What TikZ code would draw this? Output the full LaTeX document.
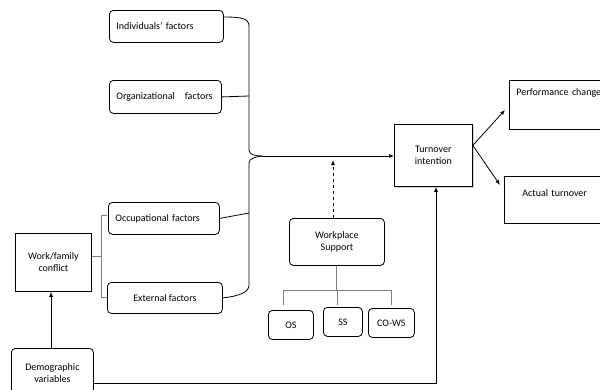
\documentclass[tikz,border=0pt]{standalone}
\usepackage{fontspec}
\setmainfont{Carlito}
\usetikzlibrary{arrows.meta,shadows}
\begin{document}
\begin{tikzpicture}[x=1pt,y=-1pt,
  rbox/.style={draw, thick, rounded corners=4pt, align=center, font=\fontsize{10}{12}\selectfont, inner sep=0pt},
  sbox/.style={draw, thick, align=center, font=\fontsize{10}{12}\selectfont, inner sep=0pt},
  lbox/.style={rbox, text width=#1, align=left},
  conn/.style={thick},
  arr/.style={thick, -{Latex[length=5pt,width=4pt]}},
  brk/.style={gray, thick}]
\useasboundingbox (0,0) rectangle (600,389);
\clip (0,0) rectangle (600,389);
% factor boxes
\node[lbox=100pt, minimum width=114pt, minimum height=32pt, anchor=north west] (ind) at (109,10) {Individuals' factors};
\node[lbox=98pt, minimum width=112pt, minimum height=33pt, anchor=north west] (org) at (109,80) {Organizational\ \ \ factors};
\node[lbox=97pt, minimum width=111pt, minimum height=32pt, anchor=north west] (occ) at (108,202) {Occupational factors};
\node[rbox, minimum width=115pt, minimum height=31pt, anchor=north west] (ext) at (107,282) {External factors};
% work/family
\node[sbox, minimum width=76pt, minimum height=58pt, anchor=north west, text width=76pt] (wf) at (15,233) {Work/family\\conflict};
% demographic
\node[rbox, minimum width=82pt, minimum height=50pt, anchor=north west, text width=82pt] (dem) at (11,348) {Demographic\\variables\\[10pt]};
% turnover
\node[sbox, minimum width=78pt, minimum height=62pt, anchor=north west, text width=78pt, fill=white, drop shadow={shadow xshift=2pt, shadow yshift=-2pt, opacity=0.35}] (ti) at (394,124) {Turnover\\intention};
% outcome boxes
\node[sbox, minimum width=100pt, minimum height=49pt, anchor=north west, text width=96pt, align=left, text depth=30pt, text height=11pt] (pc) at (509,80) {\hspace{5pt}Performance change};
\node[sbox, minimum width=100pt, minimum height=47pt, anchor=north west, text width=96pt, align=left, text depth=20pt, text height=13pt] (at) at (504,176) {\hspace{16pt}Actual turnover};
% workplace support
\node[rbox, minimum width=95pt, minimum height=47pt, anchor=north west, text width=95pt] (ws) at (289,218) {Workplace\\Support};
\node[rbox, minimum width=45pt, minimum height=29pt, anchor=north west] (os) at (268,310) {OS};
\node[rbox, minimum width=39pt, minimum height=29pt, anchor=north west] (ss) at (323,307) {SS};
\node[rbox, minimum width=46pt, minimum height=29pt, anchor=north west] (cows) at (368,308) {CO-WS};
% join coordinates
\coordinate (mid) at (262,156);
% upper brace
\draw[conn] (ind.east |- 0,17) .. controls (240,17) and (249,18) .. (249,26) -- (249,150) .. controls (249,155) and (256,156) .. (mid);
\draw[conn] (org.east) -- (249,96);
% lower brace
\draw[conn] (mid) .. controls (256,157) and (249,158) .. (249,163) -- (249,285) .. controls (249,292) and (240,296) .. (ext.east);
\draw[conn] (occ.east) -- (249,213);
% main arrow
\draw[arr] (mid) -- (ti.west |- mid);
% dashed support arrow
\draw[arr, dashed] (ws.north -| 333,0) -- (333,160);
% outcome arrows
\draw[arr] (ti.east) ++(0,-10) coordinate (tiR) -- (505,110);
\draw[arr] (tiR) -- (500,185);
% work/family bracket
\draw[brk] (107,215) -- (101,215) -- (101,297) -- (107,297);
\draw[brk] (wf.east |- 0,256) -- (101,256);
% demographic arrows
\draw[arr] (dem.north -| 51,0) -- (wf.south -| 51,0);
\draw[arr] (dem.east |- 0,383) -- (436,383) -- (ti.south -| 436,0);
% support bracket
\draw[brk] (ws.south -| 336,0) -- (336,290);
\draw[brk] (283,305) -- (283,290) -- (391,290) -- (391,305);
\draw[brk] (337,290) -- (337,305);
\end{tikzpicture}
\end{document}
